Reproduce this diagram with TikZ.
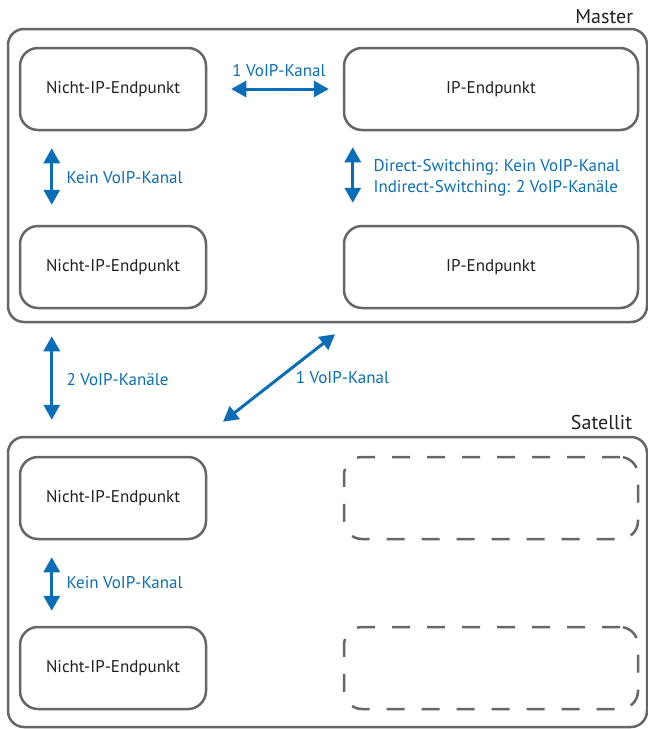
\documentclass[tikz,border=0pt]{standalone}
\usepackage{fontspec}
\setmainfont{PT Sans}
\usepackage{xcolor}
\usepackage{tikz}
\usetikzlibrary{arrows.meta,positioning,calc}
\definecolor{rahmen}{HTML}{666666}
\definecolor{voip}{HTML}{0A6DB8}
\definecolor{schrift}{HTML}{231F20}

\begin{document}
\begin{tikzpicture}[
  x=1pt,y=-1pt,
  font=\fontsize{17}{21}\selectfont,
  gruppe/.style={draw=rahmen,line width=2.5pt,rounded corners=16pt,minimum width=639pt,minimum height=290pt},
  box/.style={draw=rahmen,line width=2.5pt,rounded corners=18pt,minimum width=186pt,minimum height=82pt,text=schrift,align=center},
  ipbox/.style={box,minimum width=294pt},
  leer/.style={ipbox,dash pattern=on 18pt off 17pt},
  titel/.style={text=schrift,anchor=base east,inner sep=0pt,font=\fontsize{20}{24}\selectfont},
  arr/.style={{Triangle[length=15pt,width=16pt]}-{Triangle[length=15pt,width=16pt]},draw=voip,fill=voip,line width=3pt},
  lbl/.style={text=voip,align=left}
]
\useasboundingbox (0,0) rectangle (648,729);

% Master
\node[gruppe,minimum height=293pt] (master) at (327.5,175.5) {};
\node[titel] (masterTitel) at ([xshift=-15pt,yshift=4.75pt]master.north east) {Master};
\node[box] (mNichtA) at (113,89) {Nicht-IP-Endpunkt};
\node[ipbox] (mIPA) at (491,89) {IP-Endpunkt};
\node[box] (mNichtB) at (113,267) {Nicht-IP-Endpunkt};
\node[ipbox] (mIPB) at (491,267) {IP-Endpunkt};

% Satellit
\node[gruppe] (satellit) at (327.5,582) {};
\node[titel] (satTitel) at ([xshift=-16pt,yshift=6.75pt]satellit.north east) {Satellit};
\node[box] (sNichtA) at (113,498) {Nicht-IP-Endpunkt};
\node[leer] (sLeerA) at (491,498) {};
\node[box] (sNichtB) at (113,668) {Nicht-IP-Endpunkt};
\node[leer] (sLeerB) at (491,668) {};

% Kanaele im Master
\draw[arr,shorten <=24pt,shorten >=14pt] (mNichtA) -- node[lbl,midway,above=7pt,xshift=4pt] (lblA) {1 VoIP-Kanal} (mIPA);
\draw[arr,shorten <=17pt,shorten >=20pt] ([xshift=33pt]mNichtA.south west) -- node[lbl,midway,right=10pt] (lblB) {Kein VoIP-Kanal} ([xshift=33pt]mNichtB.north west);
\draw[arr,shorten <=16pt,shorten >=22pt] ([xshift=10pt]mIPA.south west) -- node[lbl,midway,right=16pt] (lblC) {Direct-Switching: Kein VoIP-Kanal\\Indirect-Switching: 2 VoIP-Kanäle} ([xshift=10pt]mIPB.north west);

% Master <-> Satellit
\draw[arr,shorten <=13pt,shorten >=16pt] ([xshift=45pt]master.south west) -- node[lbl,midway,right=10pt] (lblD) {2 VoIP-Kanäle} ([xshift=45pt]satellit.north west);
\draw[arr] ([xshift=7.5pt,yshift=-11pt]master.south) -- node[lbl,midway,right=12pt] (lblE) {1 VoIP-Kanal} ([xshift=-104.5pt,yshift=14pt]satellit.north);

% Kanal im Satellit
\draw[arr,shorten <=17pt,shorten >=15pt] ([xshift=33pt]sNichtA.south west) -- node[lbl,midway,right=10pt] (lblF) {Kein VoIP-Kanal} ([xshift=33pt]sNichtB.north west);
\end{tikzpicture}
\end{document}
